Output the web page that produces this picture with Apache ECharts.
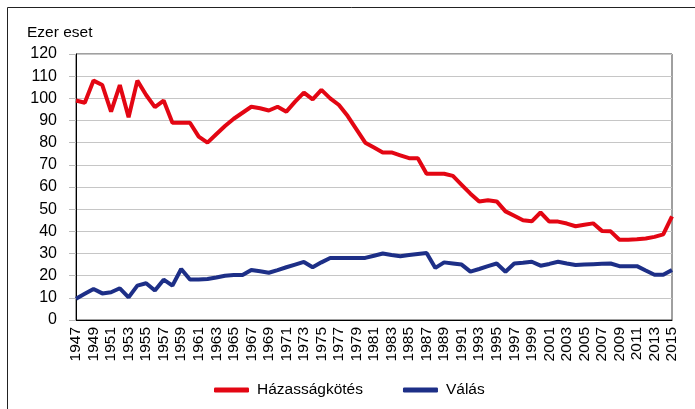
<!DOCTYPE html>
<html>
<head>
<meta charset="utf-8">
<script src="https://cdn.jsdelivr.net/npm/echarts@6/dist/echarts.min.js"></script>
<style>
  html, body { margin: 0; padding: 0; background: #fff; }
  #chart { width: 695px; height: 409px; }
</style>
</head>
<body>
<div id="chart"></div>
<script>
const years = []
for (let y = 1947; y <= 2015; y++) years.push(String(y))

const yTicks = [0, 10, 20, 30, 40, 50, 60, 70, 80, 90, 100, 110, 120]

// ezer eset
const marriages = [
  99, 98, 108, 106, 94, 106, 91.5, 108, 101.5, 96,
  99, 89, 89, 89, 82.7, 80, 83.8, 87.5, 90.8, 93.5,
  96.2, 95.5, 94.5, 96.2, 94, 98.5, 102.6, 99.5, 103.8, 100,
  97, 92, 86, 80, 77.8, 75.6, 75.6, 74.3, 73, 73,
  66, 66, 66, 65, 61, 57, 53.5, 54, 53.5, 49,
  47, 45, 44.5, 48.5, 44.4, 44.4, 43.5, 42.3, 43, 43.6,
  40.2, 40, 36.2, 36.2, 36.4, 36.8, 37.5, 38.6, 46.8
]

const divorces = [
  9.6, 11.8, 14, 12, 12.5, 14.3, 10.2, 15.5, 16.6, 13.3,
  18.2, 15.5, 23, 18.3, 18.3, 18.5, 19.2, 20, 20.3, 20.3,
  22.6, 22, 21.3, 22.5, 23.8, 25, 26.2, 23.8, 26, 28,
  28, 28, 28, 28, 29, 30, 29.3, 28.8, 29.3, 29.8,
  30.2, 23.5, 26, 25.5, 25, 21.8, 23, 24.3, 25.5, 21.8,
  25.5, 25.8, 26.3, 24.5, 25.3, 26.3, 25.5, 24.8, 25, 25.2,
  25.4, 25.5, 24.3, 24.3, 24.3, 22.3, 20.4, 20.4, 22.6
]

const seriesNames = ['Házasságkötés', 'Válás']
const colors = ['#e30613', '#1d2f87']

const chart = echarts.init(document.getElementById('chart'))

chart.setOption({
  animation: false,
  textStyle: { fontFamily: 'Liberation Sans, Arial, sans-serif' },
  title: {
    text: 'Ezer eset',
    left: 22,
    top: 20,
    textStyle: { fontSize: 15.5, fontWeight: 'normal', color: '#000' },
  },
  graphic: [
    {
      type: 'rect',
      shape: { x: 7.5, y: 7.5, width: 720, height: 440 },
      style: { fill: 'none', stroke: '#222', lineWidth: 1 },
      silent: true,
    },
  ],
  legend: {
    data: seriesNames,
    left: 209,
    top: 377,
    itemWidth: 35,
    itemHeight: 5,
    itemGap: 40,
    icon: 'roundRect',
    textStyle: { fontSize: 15.5, color: '#000', padding: [0, 0, 0, 3] },
  },
  grid: {
    left: 76,
    right: 23,
    top: 54,
    bottom: 89,
    show: true,
    borderColor: '#404040',
    borderWidth: 1,
  },
  xAxis: {
    type: 'category',
    data: years,
    boundaryGap: false,
    axisLine: { lineStyle: { color: '#000', width: 1 } },
    axisTick: { show: false },
    axisLabel: {
      interval: 1,
      rotate: 90,
      fontSize: 15.5,
      color: '#000',
      margin: 7,
    },
    splitLine: { show: false },
  },
  yAxis: {
    type: 'value',
    min: yTicks[0],
    max: yTicks[yTicks.length - 1],
    interval: 10,
    axisLine: { show: true, lineStyle: { color: '#000', width: 1 } },
    axisTick: { show: true, length: 7, lineStyle: { color: '#bcbcbc' } },
    axisLabel: { fontSize: 16, color: '#000', margin: 19 },
    splitLine: { lineStyle: { color: '#c6c6c6', width: 1 } },
  },
  series: [
    {
      name: seriesNames[0],
      type: 'line',
      data: marriages,
      showSymbol: false,
      lineStyle: { color: colors[0], width: 4 },
      itemStyle: { color: colors[0] },
    },
    {
      name: seriesNames[1],
      type: 'line',
      data: divorces,
      showSymbol: false,
      lineStyle: { color: colors[1], width: 4 },
      itemStyle: { color: colors[1] },
    },
  ],
})
</script>
</body>
</html>
